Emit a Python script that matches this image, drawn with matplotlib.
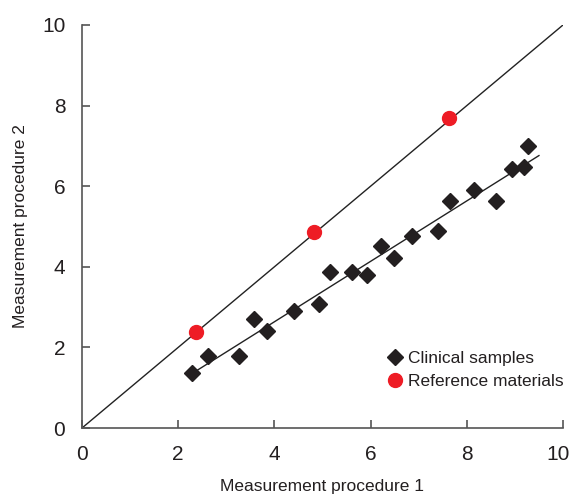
import numpy as np
import matplotlib
matplotlib.use("Agg")
import matplotlib.pyplot as plt
import matplotlib.transforms as mtrans

# Clinical samples (procedure 1 vs procedure 2)
clin_x = [2.29, 2.62, 3.26, 3.58, 3.85, 4.40, 4.92, 5.16, 5.62, 5.93,
          6.22, 6.49, 6.87, 7.41, 7.66, 8.16, 8.61, 8.93, 9.18, 9.27]
clin_y = [1.36, 1.79, 1.79, 2.70, 2.41, 2.90, 3.08, 3.86, 3.88, 3.80,
          4.51, 4.21, 4.76, 4.90, 5.63, 5.91, 5.64, 6.43, 6.47, 7.00]

# Reference materials
ref_x = [2.38, 4.83, 7.62]
ref_y = [2.39, 4.86, 7.69]

# identity line and fit line extents
ident_x = [0, 10]
fit_range = [2.3, 9.5]

plt.rcParams['font.family'] = ['Liberation Sans', 'DejaVu Sans']

fig = plt.figure(figsize=(5.71, 4.95), dpi=100)
ax = fig.add_axes([82 / 571, 1 - 428 / 495, (563 - 82) / 571, (428 - 25) / 495])

ax.plot(ident_x, ident_x, color='#222222', lw=1.0, zorder=1)

slope, icpt = np.polyfit(clin_x, clin_y, 1)
fx = np.array(fit_range)
ax.plot(fx, slope * fx + icpt, color='#222222', lw=1.0, zorder=1)

ax.plot(clin_x, clin_y, 'D', color='#231f20', markersize=8, ls='none',
        label='Clinical samples', zorder=3)
ax.plot(ref_x, ref_y, 'o', color='#ee1c25', markersize=10, ls='none',
        label='Reference materials', zorder=3)

ax.set_xlim(0, 10)
ax.set_ylim(0, 10)
ax.set_xticks([0, 2, 4, 6, 8, 10])
ax.set_yticks([0, 2, 4, 6, 8, 10])

for side in ['top', 'right']:
    ax.spines[side].set_visible(False)
for side in ['left', 'bottom']:
    ax.spines[side].set_color('#555555')
    ax.spines[side].set_linewidth(1.2)

ax.tick_params(direction='in', length=6, width=1.2, color='#555555',
               labelsize=15, labelcolor='#231f20')
ax.tick_params(axis='x', pad=12)
ax.tick_params(axis='y', pad=12)

# nudge the last x label so it stays inside the figure
last = ax.get_xticklabels()[-1]
last.set_transform(last.get_transform() +
                   mtrans.ScaledTranslation(-5 / 100, 0, fig.dpi_scale_trans))

ax.set_xlabel('Measurement procedure 1', fontsize=12.5, color='#231f20', labelpad=11)
ax.set_ylabel('Measurement procedure 2', fontsize=12.5, color='#231f20', labelpad=10)

ax.legend(loc='lower right', bbox_to_anchor=(1.015, 0.08), frameon=False,
          fontsize=12.5, handletextpad=0.05, labelspacing=0.45, borderaxespad=0,
          handlelength=1.4, labelcolor='#231f20')

fig.savefig('out.png', dpi=100)
